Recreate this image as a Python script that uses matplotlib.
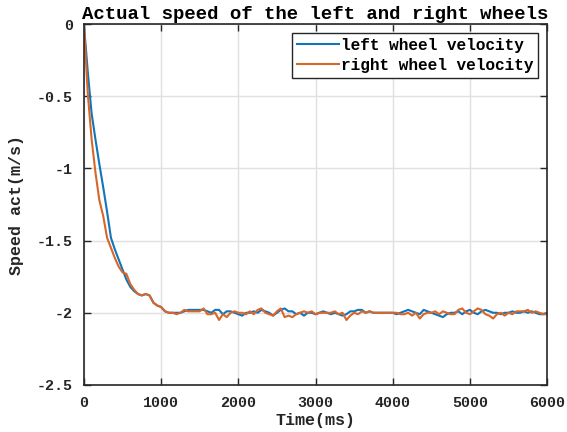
import numpy as np
import matplotlib
matplotlib.use("Agg")
import matplotlib.pyplot as plt

# Sampling period 50 ms, 0 .. 6000 ms
time_ms = np.arange(0, 6001, 50)

left_wheel = [
    0.00, -0.33, -0.62, -0.80, -0.97, -1.13, -1.30, -1.48, -1.56, -1.63,
    -1.70, -1.77, -1.82, -1.85, -1.87, -1.88, -1.87, -1.88, -1.93, -1.95,
    -1.96, -1.99, -2.00, -2.00,
    -2.00, -2.00, -1.99, -1.98, -1.98, -1.98, -1.98, -1.98, -1.99, -2.00,
    -1.98, -1.98, -2.01, -1.99, -1.99, -2.00, -2.01, -2.02, -2.00, -2.00,
    -1.99, -2.00, -1.98, -1.99, -2.00, -2.02, -2.00, -1.98, -1.97, -1.99,
    -1.99, -2.01, -2.00, -2.02, -2.00, -2.00, -2.01, -2.00, -1.99, -2.00,
    -2.01, -2.00, -2.01, -2.02, -2.01, -1.99, -1.99, -1.98, -1.98, -2.00,
    -1.99, -2.00, -2.00, -2.00, -2.00, -2.00, -2.00, -2.01, -2.00, -1.99,
    -1.98, -1.99, -2.00, -2.01, -1.98, -1.99, -2.00, -2.01, -2.02, -2.03,
    -2.01, -2.00, -2.00, -1.99, -2.01, -1.99, -1.98, -2.00, -2.01, -1.99,
    -1.98, -1.99, -2.00, -2.00, -2.01, -2.00, -2.00, -1.99, -2.00, -2.00,
    -1.99, -2.00, -1.99, -2.00, -2.01, -2.01, -2.00,
]

right_wheel = [
    0.00, -0.48, -0.80, -1.03, -1.22, -1.33, -1.48, -1.55, -1.62, -1.68,
    -1.72, -1.73, -1.80, -1.84, -1.87, -1.88, -1.87, -1.88, -1.93, -1.95,
    -1.96, -1.99, -2.00, -2.00,
    -2.01, -2.00, -1.98, -1.99, -1.99, -1.99, -1.99, -1.97, -2.01, -2.01,
    -2.00, -2.05, -2.01, -2.03, -2.00, -1.99, -2.00, -2.00, -2.01, -1.99,
    -2.01, -1.98, -1.97, -2.00, -2.01, -2.02, -1.99, -1.97, -2.03, -2.02,
    -2.03, -2.01, -2.00, -1.99, -2.00, -1.99, -2.01, -2.00, -2.00, -2.00,
    -2.00, -1.99, -2.01, -2.00, -2.05, -2.02, -2.00, -2.01, -1.99, -2.00,
    -1.99, -2.00, -2.00, -2.00, -2.00, -2.00, -2.00, -2.00, -2.01, -2.01,
    -2.00, -2.02, -2.00, -2.04, -2.01, -2.00, -2.00, -1.99, -2.01, -1.99,
    -2.00, -2.01, -2.01, -1.98, -1.97, -2.00, -2.01, -1.99, -1.97, -1.98,
    -2.01, -2.02, -2.04, -2.01, -2.00, -2.02, -2.00, -2.01, -1.99, -1.99,
    -1.99, -1.98, -2.00, -1.99, -2.00, -2.01, -2.01,
]

x_ticks = [0, 1000, 2000, 3000, 4000, 5000, 6000]
y_ticks = [-2.5, -2, -1.5, -1, -0.5, 0]
y_tick_labels = ["-2.5", "-2", "-1.5", "-1", "-0.5", "0"]

plt.rcParams["font.family"] = ["Liberation Mono", "DejaVu Sans Mono"]
plt.rcParams["font.weight"] = "bold"

fig = plt.figure(figsize=(5.67, 4.32), dpi=100)
ax = fig.add_axes([0.148, 0.109, 0.817, 0.835])

blue = (0.07, 0.46, 0.73)
orange = (0.85, 0.40, 0.16)
ax.plot(time_ms, left_wheel, color=blue, lw=1.5, label="left wheel velocity")
ax.plot(time_ms, right_wheel, color=orange, lw=1.5, label="right wheel velocity")

ax.set_xlim(0, 6000)
ax.set_ylim(-2.5, 0)
ax.set_xticks(x_ticks)
ax.set_yticks(y_ticks)
ax.set_yticklabels(y_tick_labels)
ax.grid(True, color=(0.88, 0.88, 0.88), lw=1.0)
ax.set_axisbelow(True)

dark = (0.15, 0.15, 0.15)
for s in ax.spines.values():
    s.set_color(dark)
    s.set_linewidth(1.2)
ax.tick_params(direction="in", length=5, width=1.0, color=dark,
               top=True, right=True, labelsize=10.8, labelcolor=dark)
ax.tick_params(axis="x", pad=8)
ax.tick_params(axis="y", pad=8)
for lbl in ax.get_xticklabels() + ax.get_yticklabels():
    lbl.set_fontweight("bold")

ax.set_xlabel("Time(ms)", fontsize=12, fontweight="bold", labelpad=2, color=dark)
ax.set_ylabel("Speed act(m/s)", fontsize=12, fontweight="bold", labelpad=9, color=dark)
ax.set_title("Actual speed of the left and right wheels", fontsize=13.7,
             fontweight="bold", pad=4)

leg = ax.legend(loc="upper right", fontsize=11.6, frameon=True, fancybox=False,
                edgecolor=dark, framealpha=1, handlelength=2.6,
                handletextpad=0.12, borderpad=0.3, labelspacing=0.3,
                borderaxespad=0.55)
leg.get_frame().set_linewidth(1.0)
for t in leg.get_texts():
    t.set_fontweight("bold")

fig.savefig("out.png", dpi=100)
